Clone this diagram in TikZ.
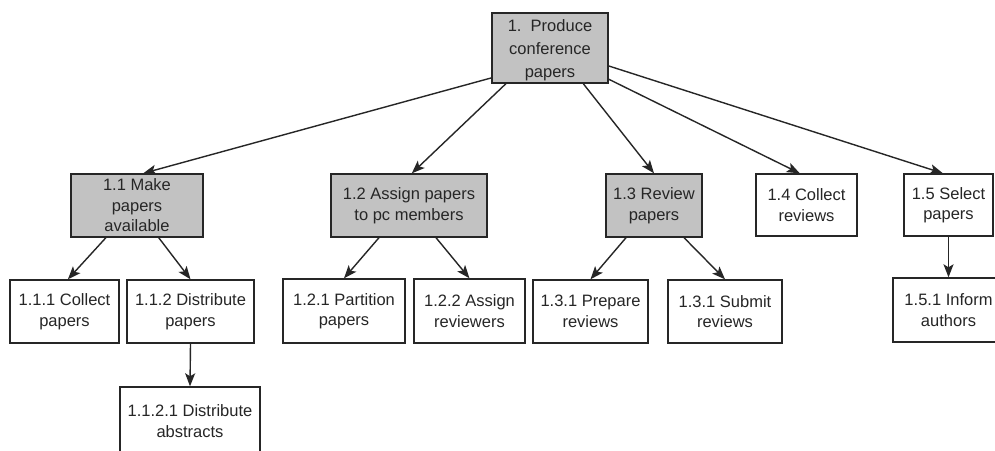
\documentclass[tikz,border=0pt]{standalone}
\usepackage{fontspec}
\setmainfont{Liberation Sans}
\usetikzlibrary{arrows.meta}
\definecolor{ink}{HTML}{262626}
\definecolor{shade}{HTML}{C2C2C2}
\tikzset{
  box/.style={draw=ink, line width=1.4pt, inner sep=0pt, align=center,
    text=ink, font=\fontsize{16.5}{20.5}\selectfont},
  grey/.style={box, fill=shade},
  link/.style={draw=ink, line width=1.4pt, -{Stealth[length=13pt,width=10pt,inset=3pt]}}
}
\begin{document}
\begin{tikzpicture}[x=1pt,y=-1pt]
\useasboundingbox (0,0) rectangle (995,450);
\clip (0,0) rectangle (995,450);
\fill[white] (0,0) rectangle (995,450);
% level 0
\node[grey, minimum width=116pt, minimum height=70pt, font=\fontsize{16.5}{23}\selectfont] (root) at (550,48) {\strut 1.\ \ Produce\\conference\\papers};
% level 1
\node[grey, minimum width=132pt, minimum height=63pt] (n11) at (137,205.5) {1.1 Make\\papers\\available};
\node[grey, minimum width=156pt, minimum height=63pt] (n12) at (409,205.5) {1.2 Assign papers\\to pc members};
\node[grey, minimum width=96pt, minimum height=63pt] (n13) at (654,205.5) {1.3 Review\\papers};
\node[box, minimum width=101pt, minimum height=62pt] (n14) at (806.5,205) {1.4 Collect\\reviews};
\node[box, minimum width=89pt, minimum height=62pt] (n15) at (948.5,205) {1.5 Select\\papers};
% level 2
\node[box, minimum width=109pt, minimum height=63pt] (n111) at (64.5,311.5) {1.1.1 Collect\\papers};
\node[box, minimum width=127pt, minimum height=63pt] (n112) at (190.5,311.5) {1.1.2 Distribute\\papers};
\node[box, minimum width=122pt, minimum height=64pt] (n121) at (344,311) {1.2.1 Partition\\papers};
\node[box, minimum width=111pt, minimum height=64pt] (n122) at (469.5,311) {1.2.2 Assign\\reviewers};
\node[box, minimum width=115pt, minimum height=63pt] (n131) at (590.5,311.5) {1.3.1 Prepare\\reviews};
\node[box, minimum width=114pt, minimum height=63pt] (n132) at (725,311.5) {1.3.1 Submit\\reviews};
\node[box, minimum width=111pt, minimum height=64pt] (n151) at (948.5,310) {1.5.1 Inform\\authors};
% level 3
\node[box, minimum width=140pt, minimum height=68pt] (n1121) at (190,421) {1.1.2.1 Distribute\\abstracts};
% connectors
\draw[link] (root.207) -- (n11.79);
\draw[link] (root.219) -- (n12.85);
\draw[link] (root.-47) -- (n13.north);
\draw[link] (root.-28) -- (n14.102);
\draw[link] (root.-17.5) -- (n15.100);
\draw[link] (n11.226) -- (n111.84);
\draw[link] (n11.-56) -- (n112.north);
\draw[link] (n12.227) -- (n121.north);
\draw[link] (n12.-50.5) -- (n122.north);
\draw[link] (n13.229) -- (n131.north);
\draw[link] (n13.-47) -- (n132.north);
\draw[link] (n15.south) -- (n151.north);
\draw[link] (n112.south) -- (n1121.north);
\end{tikzpicture}
\end{document}
